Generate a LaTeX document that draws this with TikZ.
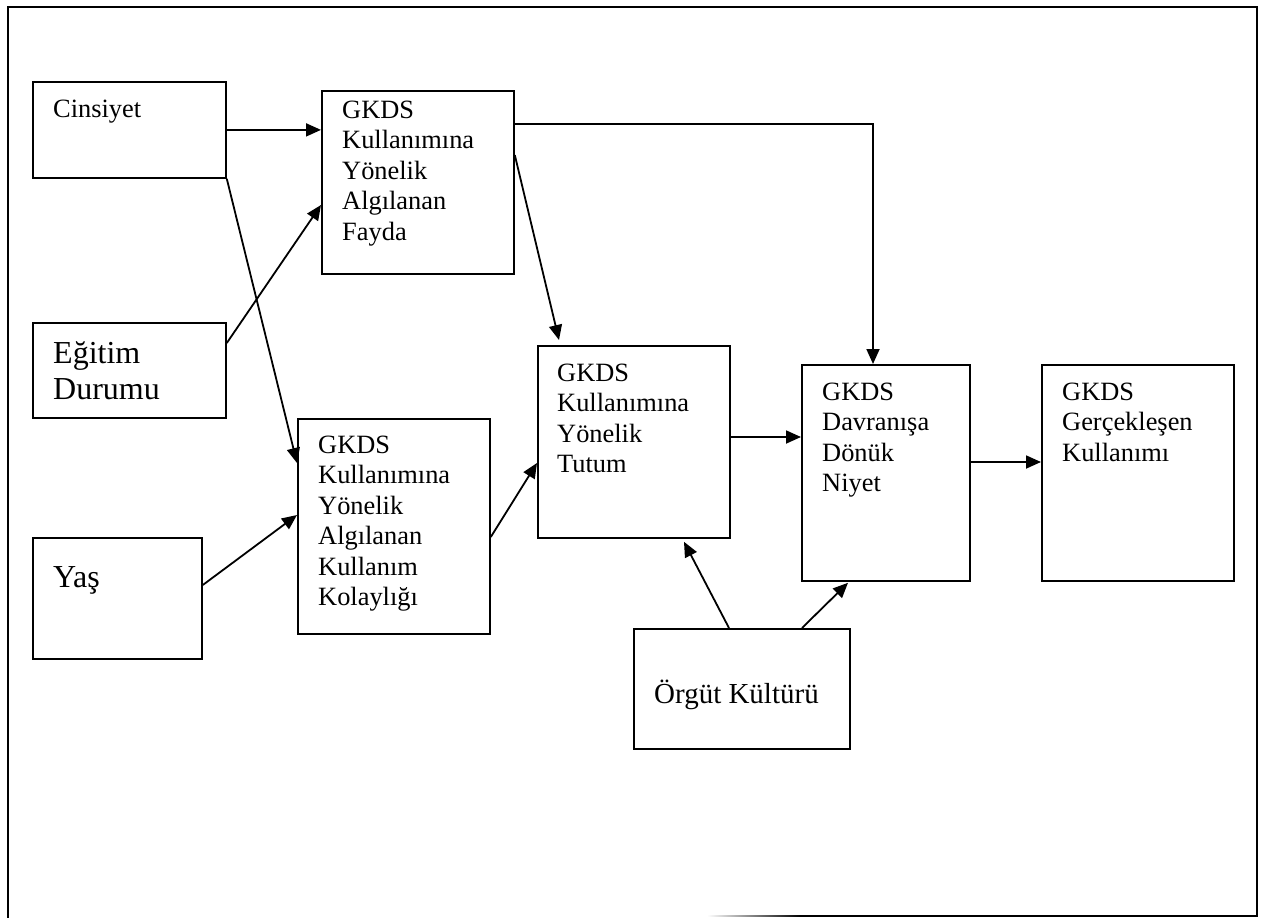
\documentclass[tikz,border=0pt]{standalone}
\usepackage{fontspec}
\setmainfont{Liberation Serif}
\usetikzlibrary{arrows.meta,calc}
\begin{document}
\begin{tikzpicture}[x=1pt,y=-1pt,
  box/.style={draw, line width=1.8pt, rectangle, inner sep=0pt, anchor=north west},
  txt/.style={anchor=north west, inner sep=0pt, align=left, font=\fontsize{26.4}{30.5}\selectfont},
  bigtxt/.style={anchor=base west, inner sep=0pt, font=\fontsize{32}{36}\selectfont},
  link/.style={line width=1.8pt, -{Triangle[length=15pt,width=13pt]}}]
\useasboundingbox (0,0) rectangle (1262,918);

% outer frame
\draw[line width=1.8pt] (8,918) -- (8,7) -- (1257,7) -- (1257,916) -- (800,916);
\shade[left color=white, right color=black] (707,915.1) rectangle (800,916.9);

% boxes
\node[box, minimum width=193pt, minimum height=96pt]  (cins)   at (32,81)   {};
\node[box, minimum width=192pt, minimum height=183pt] (fayda)  at (321,90)  {};
\node[box, minimum width=193pt, minimum height=95pt]  (egitim) at (32,322)  {};
\node[box, minimum width=169pt, minimum height=121pt] (yas)    at (32,537)  {};
\node[box, minimum width=192pt, minimum height=215pt] (kolay)  at (297,418) {};
\node[box, minimum width=192pt, minimum height=192pt] (tutum)  at (537,345) {};
\node[box, minimum width=168pt, minimum height=216pt] (niyet)  at (801,364) {};
\node[box, minimum width=192pt, minimum height=216pt] (gercek) at (1041,364) {};
\node[box, minimum width=216pt, minimum height=120pt] (orgut)  at (633,628) {};

% texts
\node[txt] (tcins) at (53,95.65) {\strut Cinsiyet};
\node[txt] (tfayda) at (342,96.65) {\strut GKDS\\Kullanımına\\Yönelik\\Algılanan\\Fayda};
\node[bigtxt] (tegitim) at (53,363) {Eğitim};
\node[bigtxt] (tdurum) at (53,399) {Durumu};
\node[bigtxt] (tyas) at (53,587) {Yaş};
\node[txt] (tkolay) at (318,431.65) {\strut GKDS\\Kullanımına\\Yönelik\\Algılanan\\Kullanım\\Kolaylığı};
\node[txt] (ttutum) at (557,359.65) {\strut GKDS\\Kullanımına\\Yönelik\\Tutum};
\node[txt] (tniyet) at (822,378.65) {\strut GKDS\\Davranışa\\Dönük\\Niyet};
\node[txt] (tgercek) at (1062,378.65) {\strut GKDS\\Gerçekleşen\\Kullanımı};
\node[anchor=base west, inner sep=0pt, font=\fontsize{29}{33}\selectfont] (torgut) at (654,703) {Örgüt Kültürü};

% connectors
\coordinate (tn) at ($(tutum.north east)+(0,92)$);
\coordinate (ng) at ($(niyet.north east)+(0,98)$);
\draw[link] (cins.east) -- (fayda.west |- cins.east);
\draw[link] (cins.south east) -- ($(kolay.north west)+(0,45)$);
\draw[link] ($(egitim.north east)+(0,21)$) -- ($(fayda.north west)+(0,115)$);
\draw[link] ($(yas.north east)+(0,48)$) -- ($(kolay.north west)+(0,97)$);
\draw[link] ($(kolay.north east)+(0,119)$) -- ($(tutum.north west)+(0,118)$);
\draw[link] ($(fayda.north east)+(0,65)$) -- ($(tutum.north west)+(22,-5)$);
\draw[link] ($(fayda.north east)+(0,34)$) -| ($(niyet.north west)+(72,0)$);
\draw[link] (tn) -- (niyet.west |- tn);
\draw[link] (ng) -- (gercek.west |- ng);
\draw[link] ($(orgut.north west)+(96,0)$) -- ($(tutum.south west)+(147,3)$);
\draw[link] ($(orgut.north west)+(169,0)$) -- ($(niyet.south west)+(47,1)$);
\end{tikzpicture}
\end{document}
